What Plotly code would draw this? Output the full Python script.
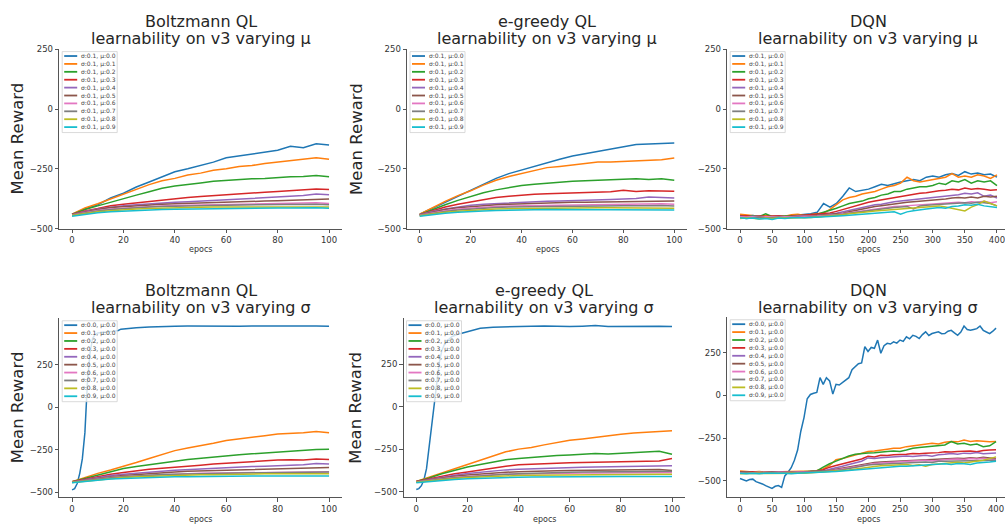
import plotly.graph_objects as go

W, H = 1005, 532
COLORS = ["#1f77b4", "#ff7f0e", "#2ca02c", "#d62728", "#9467bd",
          "#8c564b", "#e377c2", "#7f7f7f", "#bcbd22", "#17becf"]

MU_LABELS = ["σ:0.1, μ:0.0", "σ:0.1, μ:0.1", "σ:0.1, μ:0.2", "σ:0.1, μ:0.3", "σ:0.1, μ:0.4",
             "σ:0.1, μ:0.5", "σ:0.1, μ:0.6", "σ:0.1, μ:0.7", "σ:0.1, μ:0.8", "σ:0.1, μ:0.9"]
SIGMA_LABELS = ["σ:0.0, μ:0.0", "σ:0.1, μ:0.0", "σ:0.2, μ:0.0", "σ:0.3, μ:0.0", "σ:0.4, μ:0.0",
                "σ:0.5, μ:0.0", "σ:0.6, μ:0.0", "σ:0.7, μ:0.0", "σ:0.8, μ:0.0", "σ:0.9, μ:0.0"]

X_QL = [0, 5, 10, 15, 20, 25, 30, 35, 40, 45, 50, 55, 60, 65, 70, 75, 80, 85, 90, 95, 100]
X_DQN = list(range(0, 401, 10))
X_DQN5 = list(range(0, 401, 5))
QL_TICKS = [0, 20, 40, 60, 80, 100]
DQN_TICKS = [0, 50, 100, 150, 200, 250, 300, 350, 400]
Y_TICKS = [-500, -250, 0, 250]

# ---- Boltzmann QL, varying mu ----
B_MU = [
    [-440, -418, -400, -372, -352, -326, -305, -282, -262, -250, -236, -222, -204, -196, -188, -182, -172, -156, -162, -145, -150],
    [-440, -414, -396, -376, -356, -336, -316, -300, -290, -276, -268, -256, -250, -240, -236, -228, -222, -218, -212, -204, -210],
    [-441, -420, -405, -389, -376, -360, -346, -331, -322, -314, -309, -302, -298, -296, -292, -290, -285, -283, -282, -278, -283],
    [-441, -426, -416, -404, -398, -392, -386, -380, -376, -370, -366, -362, -357, -354, -350, -348, -345, -342, -340, -334, -336],
    [-442, -428, -418, -410, -404, -400, -396, -392, -390, -388, -385, -383, -380, -375, -372, -370, -368, -364, -362, -355, -358],
    [-442, -430, -420, -412, -408, -404, -400, -398, -396, -394, -392, -390, -389, -388, -386, -385, -384, -382, -380, -378, -376],
    [-443, -432, -424, -418, -414, -410, -408, -405, -403, -402, -400, -400, -398, -398, -397, -396, -395, -395, -394, -392, -395],
    [-444, -434, -426, -420, -416, -412, -410, -408, -406, -405, -404, -403, -402, -401, -400, -400, -400, -399, -399, -398, -400],
    [-445, -436, -430, -425, -420, -418, -416, -414, -412, -412, -411, -410, -410, -410, -409, -408, -408, -408, -407, -407, -410],
    [-448, -440, -434, -430, -427, -424, -422, -420, -419, -418, -418, -417, -416, -416, -415, -415, -414, -414, -413, -413, -415],
]

# ---- e-greedy QL, varying mu ----
E_MU = [
    [-440, -415, -390, -366, -340, -316, -290, -270, -255, -238, -222, -210, -196, -186, -175, -166, -155, -148, -146, -145, -142],
    [-440, -412, -386, -362, -342, -318, -298, -282, -270, -258, -245, -240, -235, -228, -222, -222, -220, -218, -215, -212, -205],
    [-442, -420, -400, -382, -365, -350, -338, -328, -320, -315, -310, -305, -302, -300, -298, -296, -292, -292, -295, -292, -298],
    [-442, -425, -410, -398, -388, -378, -370, -365, -360, -356, -354, -352, -350, -349, -348, -346, -340, -345, -342, -344, -344],
    [-442, -428, -418, -410, -402, -398, -395, -392, -390, -388, -386, -385, -384, -382, -380, -378, -376, -374, -368, -370, -372],
    [-443, -430, -420, -413, -408, -404, -400, -398, -396, -394, -393, -392, -390, -390, -389, -388, -388, -387, -386, -386, -385],
    [-444, -433, -425, -418, -414, -410, -408, -406, -405, -404, -403, -402, -402, -401, -400, -400, -400, -399, -398, -396, -398],
    [-445, -435, -428, -422, -418, -414, -412, -410, -409, -408, -407, -406, -406, -405, -405, -404, -404, -404, -403, -403, -405],
    [-446, -438, -432, -427, -423, -420, -418, -417, -416, -415, -415, -414, -414, -414, -413, -413, -413, -412, -412, -412, -415],
    [-448, -441, -436, -432, -428, -426, -424, -422, -421, -421, -420, -420, -420, -420, -419, -419, -419, -419, -419, -419, -422],
]

# ---- DQN, varying mu ----
D_MU = [
    [-445, -448, -445, -450, -448, -448, -450, -447, -446, -444, -440, -438, -432, -395, -410, -395, -365, -330, -345, -340, -335, -325, -315, -320, -312, -305, -300, -295, -300, -285, -280, -285, -275, -270, -278, -262, -272, -268, -275, -272, -285],
    [-440, -442, -445, -448, -445, -447, -446, -448, -442, -440, -445, -440, -438, -435, -420, -400, -380, -370, -365, -355, -350, -345, -335, -325, -320, -310, -285, -300, -305, -300, -295, -290, -285, -270, -285, -280, -285, -275, -280, -290, -275],
    [-450, -448, -446, -449, -438, -450, -448, -449, -446, -445, -444, -442, -440, -432, -425, -415, -405, -395, -390, -385, -375, -370, -360, -355, -345, -345, -335, -330, -325, -325, -320, -310, -315, -300, -305, -295, -310, -300, -305, -300, -320],
    [-448, -446, -450, -447, -449, -448, -446, -450, -448, -445, -446, -444, -442, -440, -435, -428, -420, -412, -405, -398, -390, -385, -380, -375, -372, -365, -362, -358, -352, -350, -345, -342, -340, -335, -338, -330, -335, -332, -335, -340, -338],
    [-450, -452, -448, -450, -451, -449, -450, -448, -450, -447, -448, -446, -445, -444, -440, -436, -430, -424, -418, -412, -405, -400, -398, -392, -388, -385, -382, -378, -376, -374, -372, -368, -365, -360, -358, -352, -355, -350, -365, -360, -372],
    [-452, -450, -455, -450, -452, -450, -451, -452, -449, -450, -448, -447, -446, -445, -443, -440, -436, -430, -424, -418, -412, -408, -404, -400, -396, -392, -390, -388, -386, -382, -380, -378, -376, -372, -370, -372, -368, -372, -365, -368, -365],
    [-450, -452, -450, -453, -451, -450, -452, -450, -451, -449, -450, -448, -447, -446, -444, -442, -438, -434, -430, -426, -422, -418, -414, -412, -408, -406, -404, -402, -400, -398, -399, -396, -394, -392, -390, -392, -388, -390, -386, -392, -388],
    [-455, -458, -455, -452, -456, -454, -452, -455, -453, -452, -454, -451, -450, -448, -446, -444, -440, -436, -432, -428, -425, -420, -418, -415, -412, -410, -408, -418, -405, -402, -400, -398, -396, -394, -395, -392, -394, -390, -392, -395, -405],
    [-458, -455, -457, -460, -456, -458, -455, -457, -456, -455, -456, -454, -452, -450, -448, -446, -442, -438, -436, -432, -430, -426, -424, -420, -418, -416, -414, -412, -410, -408, -406, -405, -410, -415, -420, -426, -410, -400, -385, -395, -405],
    [-455, -458, -456, -460, -458, -462, -456, -458, -455, -456, -455, -454, -453, -452, -450, -448, -446, -444, -442, -440, -438, -436, -434, -432, -430, -440, -430, -425, -420, -418, -415, -412, -415, -408, -405, -400, -402, -398, -405, -410, -412],
]

# ---- Boltzmann QL, varying sigma ----
B_SIG0_X = [0, 1, 2, 3, 4, 5, 6, 7, 8, 9, 10, 12, 14, 16, 18, 19, 20, 25, 30, 35, 40, 45, 50, 55, 60, 65, 70, 75, 80, 85, 90, 95, 100]
B_SIG0_Y = [-487, -480, -450, -390, -305, -150, 150, 320, 405, 430, 438, 443, 445, 448, 452, 460, 462, 468, 472, 476,
            477, 478, 477, 478, 478, 477, 479, 478, 479, 478, 479, 479, 477]
B_SIG = [
    [-440, -415, -390, -370, -350, -326, -302, -280, -256, -240, -228, -212, -196, -188, -180, -168, -158, -155, -150, -144, -150],
    [-440, -420, -400, -380, -362, -350, -338, -327, -318, -308, -300, -292, -284, -280, -275, -270, -265, -258, -255, -250, -248],
    [-440, -425, -410, -395, -385, -375, -366, -360, -355, -348, -342, -335, -330, -325, -322, -318, -312, -310, -312, -305, -308],
    [-441, -428, -415, -403, -395, -388, -382, -377, -372, -368, -365, -360, -358, -350, -350, -348, -345, -342, -340, -332, -335],
    [-441, -430, -418, -410, -402, -396, -390, -386, -382, -378, -376, -374, -372, -370, -368, -366, -364, -362, -360, -358, -355],
    [-442, -432, -422, -414, -408, -404, -400, -396, -394, -392, -390, -389, -388, -387, -386, -385, -384, -383, -382, -381, -380],
    [-443, -433, -424, -416, -410, -405, -400, -397, -395, -393, -391, -390, -389, -388, -387, -386, -385, -384, -383, -383, -382],
    [-444, -436, -428, -420, -415, -410, -407, -404, -402, -400, -398, -398, -396, -395, -394, -393, -393, -392, -392, -391, -392],
    [-446, -438, -430, -424, -420, -417, -414, -412, -410, -410, -410, -408, -407, -406, -406, -405, -405, -405, -404, -404, -405],
]

# ---- e-greedy QL, varying sigma ----
E_SIG0_X = [0, 1, 2, 3, 4, 5, 6, 7, 8, 9, 10, 11, 12, 13, 14, 16, 18, 20, 22, 25, 30, 35, 40, 45, 50, 55, 60, 65, 70, 75, 80, 85, 90, 95, 100]
E_SIG0_Y = [-487, -482, -465, -430, -365, -240, -100, 30, 150, 260, 330, 365, 385, 400, 412, 424, 432, 443, 452, 460,
            467, 470, 471, 473, 474, 472, 471, 473, 476, 471, 472, 473, 472, 473, 471]
E_SIG = [
    [-440, -415, -390, -365, -340, -315, -290, -266, -250, -240, -225, -210, -198, -190, -180, -172, -162, -155, -150, -148, -142],
    [-440, -420, -395, -375, -355, -340, -325, -312, -305, -298, -292, -288, -285, -280, -276, -278, -275, -272, -268, -262, -280],
    [-440, -425, -410, -395, -385, -372, -360, -350, -342, -338, -335, -332, -330, -328, -326, -325, -322, -320, -318, -320, -305],
    [-442, -428, -415, -403, -393, -385, -378, -372, -368, -365, -362, -360, -358, -356, -355, -354, -352, -350, -352, -350, -348],
    [-442, -430, -420, -410, -402, -396, -390, -386, -383, -380, -378, -377, -376, -375, -374, -373, -372, -372, -371, -370, -375],
    [-443, -432, -424, -416, -410, -405, -401, -398, -396, -394, -393, -392, -391, -390, -390, -389, -389, -388, -388, -388, -388],
    [-444, -433, -425, -418, -412, -406, -402, -398, -395, -392, -390, -388, -386, -385, -384, -384, -383, -382, -382, -381, -380],
    [-445, -436, -428, -422, -417, -413, -410, -407, -405, -404, -403, -402, -401, -400, -400, -399, -399, -398, -398, -398, -398],
    [-447, -440, -433, -428, -424, -421, -418, -416, -415, -414, -413, -413, -412, -412, -412, -411, -411, -411, -410, -410, -411],
]

# ---- DQN, varying sigma ----
D_SIG0_Y = [-486, -495, -500, -492, -490, -505, -510, -518, -528, -535,
            -544, -532, -528, -538, -471, -450, -423, -380, -320, -210,
            -130, -20, 5, 12, 17, 103, 64, 103, 84, 7,
            64, 60, 74, 90, 103, 150, 170, 185, 189, 284,
            256, 280, 275, 323, 246, 290, 304, 300, 313, 305,
            323, 315, 342, 330, 351, 345, 332, 355, 371, 350,
            361, 365, 371, 360, 361, 375, 380, 365, 351, 370,
            405, 385, 380, 385, 390, 405, 380, 370, 361, 375,
            393]
D_SIG = [
    [-442, -445, -448, -446, -450, -448, -447, -449, -446, -448, -445, -442, -440, -430, -410, -376, -370, -360, -350, -340, -328, -325, -318, -315, -310, -309, -300, -295, -290, -285, -280, -285, -275, -270, -272, -261, -270, -265, -268, -272, -270],
    [-450, -448, -452, -449, -451, -450, -448, -452, -450, -448, -446, -444, -442, -420, -400, -385, -370, -355, -345, -340, -337, -335, -330, -328, -325, -328, -320, -310, -305, -302, -299, -295, -290, -270, -285, -280, -290, -285, -300, -295, -270],
    [-448, -450, -447, -452, -449, -451, -450, -448, -452, -450, -448, -446, -444, -435, -420, -410, -400, -390, -380, -372, -356, -360, -350, -352, -348, -347, -345, -340, -342, -338, -337, -335, -330, -332, -328, -328, -325, -330, -322, -320, -318],
    [-452, -450, -454, -451, -452, -450, -452, -450, -451, -449, -450, -448, -446, -442, -432, -425, -415, -405, -395, -385, -366, -370, -365, -362, -360, -358, -355, -358, -352, -350, -356, -348, -345, -340, -345, -338, -340, -335, -342, -338, -337],
    [-450, -452, -450, -453, -451, -450, -452, -451, -450, -452, -450, -449, -448, -446, -440, -432, -425, -418, -410, -402, -395, -392, -390, -388, -385, -382, -380, -378, -378, -376, -376, -372, -372, -370, -368, -370, -365, -368, -362, -366, -370],
    [-452, -454, -452, -450, -453, -452, -450, -452, -451, -450, -452, -450, -449, -447, -442, -436, -430, -422, -415, -408, -402, -398, -395, -392, -390, -388, -386, -384, -382, -380, -384, -378, -376, -374, -372, -375, -370, -372, -368, -372, -375],
    [-455, -452, -455, -453, -454, -452, -455, -453, -452, -454, -452, -451, -450, -448, -444, -440, -435, -428, -420, -414, -408, -404, -402, -400, -398, -396, -394, -392, -390, -390, -392, -386, -385, -384, -382, -384, -380, -382, -378, -380, -380],
    [-458, -456, -458, -455, -457, -456, -455, -458, -456, -455, -456, -454, -452, -450, -448, -444, -440, -436, -430, -425, -420, -416, -412, -410, -408, -406, -404, -410, -406, -414, -405, -402, -400, -396, -392, -395, -390, -385, -380, -370, -360],
    [-455, -458, -456, -458, -455, -457, -456, -455, -458, -456, -455, -453, -452, -450, -448, -446, -443, -440, -436, -432, -428, -425, -422, -420, -418, -415, -415, -412, -410, -408, -404, -402, -400, -405, -398, -400, -405, -396, -394, -390, -385],
]

TITLES = [
    ("Boltzmann QL", "learnability on v3 varying μ"),
    ("e-greedy QL", "learnability on v3 varying μ"),
    ("DQN", "learnability on v3 varying μ"),
    ("Boltzmann QL", "learnability on v3 varying σ"),
    ("e-greedy QL", "learnability on v3 varying σ"),
    ("DQN", "learnability on v3 varying σ"),
]

panels = [
    dict(series=[(X_QL, s) for s in B_MU], labels=MU_LABELS,
         box=(59.2, 45, 341.9, 228), xr=[-5, 105], yr=[-500.5, 250.5], xt=QL_TICKS,
         tc=341.9, ty=(17.0, 34.5), xl=249, yl=17.5),
    dict(series=[(X_QL, s) for s in E_MU], labels=MU_LABELS,
         box=(407, 45, 687, 228), xr=[-5, 105], yr=[-500.5, 250.5], xt=QL_TICKS,
         tc=687, ty=(17.0, 34.5), xl=249, yl=357),
    dict(series=[(X_DQN, s) for s in D_MU], labels=MU_LABELS,
         box=(727.2, 45, 1005, 228), xr=[-20, 412.5], yr=[-500.5, 250.5], xt=DQN_TICKS,
         tc=1009.5, ty=(17.0, 34.5), xl=249, yl=None),
    dict(series=[(B_SIG0_X, B_SIG0_Y)] + [(X_QL, s) for s in B_SIG], labels=SIGMA_LABELS,
         box=(59.2, 319.3, 341.9, 501.7), xr=[-5, 105], yr=[-531, 524], xt=QL_TICKS,
         tc=341.9, ty=(290.5, 308.0), xl=524, yl=17.5),
    dict(series=[(E_SIG0_X, E_SIG0_Y)] + [(X_QL, s) for s in E_SIG], labels=SIGMA_LABELS,
         box=(403.5, 319.3, 684.8, 501.7), xr=[-5, 105], yr=[-533, 519], xt=QL_TICKS,
         tc=684.8, ty=(290.5, 308.0), xl=524, yl=356),
    dict(series=[(X_DQN5, D_SIG0_Y)] + [(X_DQN, s) for s in D_SIG], labels=SIGMA_LABELS,
         box=(727.2, 318.3, 1005, 501.7), xr=[-20, 414], yr=[-596, 456], xt=DQN_TICKS,
         tc=1009, ty=(290.5, 308.0), xl=524, yl=None),
]

FONT = "DejaVu Sans"
TXT = "#262626"
AX = "#555555"


def fx(p):
    return p / W


def fy(p):
    return 1 - p / H


fig = go.Figure()
layout = dict(width=W, height=H, margin=dict(l=0, r=0, t=0, b=0),
              paper_bgcolor="white", plot_bgcolor="white", showlegend=False,
              font=dict(family=FONT, color=TXT))
shapes, annots = [], []

for pi, p in enumerate(panels, start=1):
    sfx = "" if pi == 1 else str(pi)
    L, T, R, B = p["box"]
    for k, (xs, ys) in enumerate(p["series"]):
        fig.add_trace(go.Scatter(x=xs, y=ys, mode="lines",
                                 line=dict(color=COLORS[k], width=1.5),
                                 xaxis="x" + sfx, yaxis="y" + sfx,
                                 hoverinfo="skip", showlegend=False))
    common = dict(showgrid=False, zeroline=False, showline=True, linecolor=AX, linewidth=1,
                  ticks="outside", ticklen=3.5, tickwidth=1, tickcolor=AX,
                  ticklabeloverflow="allow",
                  tickfont=dict(family=FONT, size=8.5, color="#333333"))
    layout["xaxis" + sfx] = dict(domain=[fx(L), min(1.0, fx(R))], range=p["xr"],
                                 anchor="y" + sfx, tickvals=p["xt"], **common)
    layout["yaxis" + sfx] = dict(domain=[fy(B), fy(T)], range=p["yr"],
                                 anchor="x" + sfx, tickvals=Y_TICKS, **common)
    cx = (L + p["tc"]) / 2
    t1, t2 = TITLES[pi - 1]
    for txt, ty in zip((t1, t2), p["ty"]):
        annots.append(dict(text=txt, x=fx(cx), y=fy(ty), xref="paper", yref="paper",
                           xanchor="center", yanchor="middle", showarrow=False,
                           font=dict(family=FONT, size=16, color=TXT)))
    annots.append(dict(text="epocs", x=fx(cx), y=fy(p["xl"]), xref="paper", yref="paper",
                       xanchor="center", yanchor="middle", showarrow=False,
                       font=dict(family=FONT, size=8, color="#333333")))
    if p["yl"] is not None:
        annots.append(dict(text="Mean Reward", x=fx(p["yl"]), y=fy((T + B) / 2),
                           xref="paper", yref="paper", xanchor="center", yanchor="middle",
                           textangle=-90, showarrow=False,
                           font=dict(family=FONT, size=16.5, color=TXT)))
    # legend box
    shapes.append(dict(type="rect", xref="paper", yref="paper", layer="above",
                       x0=fx(L + 3), x1=fx(L + 58), y0=fy(T + 2.5), y1=fy(T + 85),
                       fillcolor="rgba(255,255,255,0.8)",
                       line=dict(color="#d0d0d0", width=0.8)))
    for k, lab in enumerate(p["labels"]):
        yk = T + 7 + k * 8.05
        shapes.append(dict(type="line", xref="paper", yref="paper", layer="above",
                           x0=fx(L + 5), x1=fx(L + 18), y0=fy(yk), y1=fy(yk),
                           line=dict(color=COLORS[k], width=1.8)))
        annots.append(dict(text=lab, x=fx(L + 19.5), y=fy(yk), xref="paper", yref="paper",
                           xanchor="left", yanchor="middle", showarrow=False,
                           font=dict(family=FONT, size=6, color="#444444")))

layout["shapes"] = shapes
layout["annotations"] = annots
fig.update_layout(**layout)
fig.write_html("out.html", config={"displayModeBar": False},
               post_script="document.body.style.margin='0';document.body.style.overflow='hidden';")
